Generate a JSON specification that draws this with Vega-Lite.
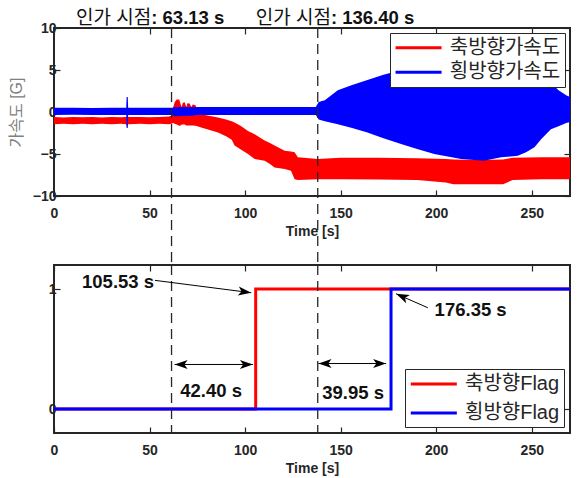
{
  "$schema": "https://vega.github.io/schema/vega-lite/v6.json",
  "background": "white",
  "padding": {"left": 7, "top": 7, "right": 5, "bottom": 5},
  "bounds": "flush",
  "spacing": 69,
  "config": {
    "font": "Liberation Sans, Noto Sans CJK KR",
    "view": {"stroke": "#262626", "strokeWidth": 2},
    "axis": {
      "grid": false, "domain": false, "tickSize": -6, "tickColor": "#262626", "tickWidth": 1.2,
      "labelFontWeight": "bold", "labelFontSize": 14, "labelColor": "#262626", "labelFlush": false,
      "titleFontWeight": "bold", "titleFontSize": 14, "titleColor": "#262626"
    },
    "axisX": {"labelPadding": 16, "titlePadding": 4},
    "axisY": {"labelPadding": 4}
  },
  "datasets": {
    "accRed": [
      {"t": 0, "lo": -1.45, "hi": -0.6}, {"t": 5, "lo": -1.4, "hi": -0.65}, {"t": 10, "lo": -1.45, "hi": -0.6},
      {"t": 15, "lo": -1.4, "hi": -0.62}, {"t": 20, "lo": -1.45, "hi": -0.6}, {"t": 25, "lo": -1.4, "hi": -0.65},
      {"t": 30, "lo": -1.45, "hi": -0.6}, {"t": 35, "lo": -1.4, "hi": -0.62}, {"t": 37.8, "lo": -1.45, "hi": -0.6},
      {"t": 38.2, "lo": -1.8, "hi": -0.6}, {"t": 38.8, "lo": -1.45, "hi": -0.6}, {"t": 45, "lo": -1.4, "hi": -0.6},
      {"t": 50, "lo": -1.45, "hi": -0.62}, {"t": 55, "lo": -1.4, "hi": -0.6}, {"t": 60, "lo": -1.45, "hi": -0.55},
      {"t": 61.5, "lo": -1.4, "hi": -0.45}, {"t": 62.3, "lo": -1.3, "hi": 0.5}, {"t": 63.2, "lo": -1.4, "hi": 1.2},
      {"t": 64.2, "lo": -1.5, "hi": 1.5}, {"t": 65.5, "lo": -1.65, "hi": 1.5}, {"t": 66.3, "lo": -1.6, "hi": 0.9},
      {"t": 66.8, "lo": -1.5, "hi": 0.6}, {"t": 67.4, "lo": -1.5, "hi": 1.1}, {"t": 68.4, "lo": -1.5, "hi": 1.15},
      {"t": 69.2, "lo": -1.6, "hi": 0.6}, {"t": 69.8, "lo": -1.6, "hi": 1.05}, {"t": 71, "lo": -1.6, "hi": 1.0},
      {"t": 71.8, "lo": -1.6, "hi": 0.6}, {"t": 72.6, "lo": -1.6, "hi": 0.9}, {"t": 74, "lo": -1.65, "hi": 0.8},
      {"t": 75, "lo": -1.7, "hi": 0.3}, {"t": 77, "lo": -1.85, "hi": -0.26}, {"t": 81, "lo": -2.1, "hi": -0.45},
      {"t": 85.8, "lo": -2.45, "hi": -0.66}, {"t": 90, "lo": -2.9, "hi": -0.9}, {"t": 93, "lo": -3.3, "hi": -1.1},
      {"t": 94.5, "lo": -4.0, "hi": -1.26}, {"t": 98, "lo": -4.5, "hi": -1.7}, {"t": 101.5, "lo": -5.0, "hi": -2.25},
      {"t": 105, "lo": -5.6, "hi": -2.65}, {"t": 110.2, "lo": -5.8, "hi": -3.4}, {"t": 113, "lo": -6.2, "hi": -3.7},
      {"t": 115.4, "lo": -6.6, "hi": -4.0}, {"t": 120.7, "lo": -6.8, "hi": -4.6}, {"t": 124, "lo": -7.0, "hi": -4.7},
      {"t": 125.9, "lo": -8.0, "hi": -4.8}, {"t": 127.6, "lo": -8.1, "hi": -5.4}, {"t": 138, "lo": -8.0, "hi": -5.6},
      {"t": 150, "lo": -8.0, "hi": -5.45}, {"t": 170, "lo": -8.05, "hi": -5.45}, {"t": 190, "lo": -8.1, "hi": -5.5},
      {"t": 205, "lo": -8.4, "hi": -5.6}, {"t": 209, "lo": -8.6, "hi": -5.65}, {"t": 222, "lo": -8.6, "hi": -5.7},
      {"t": 235, "lo": -8.6, "hi": -5.65}, {"t": 240, "lo": -8.1, "hi": -5.45}, {"t": 255, "lo": -8.0, "hi": -5.4},
      {"t": 270, "lo": -8.0, "hi": -5.4}
    ],
    "accBlue": [
      {"t": 0, "lo": -0.35, "hi": 0.5}, {"t": 10, "lo": -0.33, "hi": 0.5}, {"t": 20, "lo": -0.35, "hi": 0.48},
      {"t": 30, "lo": -0.35, "hi": 0.5}, {"t": 37.8, "lo": -0.35, "hi": 0.5}, {"t": 38, "lo": -1.9, "hi": 1.8},
      {"t": 38.6, "lo": -1.9, "hi": 1.8}, {"t": 38.8, "lo": -0.35, "hi": 0.5}, {"t": 50, "lo": -0.35, "hi": 0.5},
      {"t": 62, "lo": -0.35, "hi": 0.5}, {"t": 63, "lo": -0.5, "hi": 0.6}, {"t": 72, "lo": -0.45, "hi": 0.6},
      {"t": 75, "lo": -0.35, "hi": 0.6}, {"t": 100, "lo": -0.35, "hi": 0.6}, {"t": 137, "lo": -0.35, "hi": 0.6},
      {"t": 138.5, "lo": -0.9, "hi": 1.2}, {"t": 141.7, "lo": -1.1, "hi": 1.4}, {"t": 148.5, "lo": -1.45, "hi": 2.6},
      {"t": 156, "lo": -1.9, "hi": 3.2}, {"t": 164, "lo": -2.45, "hi": 3.8}, {"t": 172, "lo": -3.1, "hi": 4.4},
      {"t": 181.6, "lo": -3.8, "hi": 5.0}, {"t": 190, "lo": -4.4, "hi": 5.5}, {"t": 199, "lo": -5.0, "hi": 6.0},
      {"t": 206, "lo": -5.3, "hi": 6.3}, {"t": 213, "lo": -5.6, "hi": 6.6}, {"t": 225, "lo": -5.8, "hi": 6.8},
      {"t": 234, "lo": -5.4, "hi": 6.6}, {"t": 242.7, "lo": -5.2, "hi": 6.3}, {"t": 247, "lo": -4.8, "hi": 5.8},
      {"t": 251.4, "lo": -4.2, "hi": 5.2}, {"t": 255, "lo": -3.2, "hi": 4.4}, {"t": 260, "lo": -2.05, "hi": 3.5},
      {"t": 264, "lo": -1.7, "hi": 2.6}, {"t": 268, "lo": -1.3, "hi": 2.0}, {"t": 270, "lo": -1.2, "hi": 1.8}
    ],
    "vlines": [{"t": 61.5}, {"t": 138}],
    "titlesTop": [
      {"t": 50.9, "v": 11.25, "kor": "인가 시점", "num": ": 63.13 s"},
      {"t": 144.9, "v": 11.25, "kor": "인가 시점", "num": ": 136.40 s"}
    ],
    "flagRed": [{"t": 0, "f": 0}, {"t": 105.53, "f": 1}, {"t": 270, "f": 1}],
    "flagBlue": [{"t": 0, "f": 0}, {"t": 176.35, "f": 1}, {"t": 270, "f": 1}],
    "arrows": [
      {"x1": 52.8, "y1": 1.072, "x2": 103.2, "y2": 0.969},
      {"x1": 195.6, "y1": 0.844, "x2": 179.0, "y2": 0.96},
      {"x1": 63.1, "y1": 0.371, "x2": 104.1, "y2": 0.371},
      {"x1": 138.4, "y1": 0.379, "x2": 173.8, "y2": 0.379}
    ],
    "headsRight": [{"t": 104.1, "v": 0.371}, {"t": 173.8, "v": 0.379}],
    "headsLeft": [{"t": 63.1, "v": 0.371}, {"t": 138.4, "v": 0.379}],
    "headDiag1": [{"t": 103.2, "v": 0.969}],
    "headDiag2": [{"t": 179.0, "v": 0.96}],
    "labelsBottom": [
      {"t": 33.5, "v": 1.055, "s": "105.53 s"},
      {"t": 82.2, "v": 0.148, "s": "42.40 s"},
      {"t": 156.5, "v": 0.135, "s": "39.95 s"},
      {"t": 218, "v": 0.823, "s": "176.35 s"}
    ]
  },
  "vconcat": [
    {
      "width": 516,
      "height": 168,
      "resolve": {"axis": {"x": "independent", "y": "independent"}},
      "layer": [
        {
          "data": {"name": "accRed"},
          "mark": {"type": "area", "opacity": 1},
          "encoding": {
            "x": {"field": "t", "type": "quantitative", "scale": {"domain": [0, 270], "nice": false, "zero": false},
                  "axis": {"values": [0, 50, 100, 150, 200, 250], "title": "Time [s]"}},
            "y": {"field": "hi", "type": "quantitative", "scale": {"domain": [-10, 10], "nice": false},
                  "axis": {"values": [-10, -5, 0, 5, 10], "title": "가속도 [G]", "titleColor": "#808080", "titleFontWeight": "normal", "titleFontSize": 16, "titlePadding": 8}},
            "y2": {"field": "lo"},
            "color": {"datum": "축방향가속도", "type": "nominal",
                      "scale": {"domain": ["축방향가속도", "횡방향가속도"], "range": ["#ff0000", "#0000ff"]},
                      "legend": {"title": null, "orient": "top-right", "offset": 5, "padding": 4.75, "rowPadding": 4.5,
                                 "labelFontSize": 20, "labelColor": "#262626", "labelOffset": 35,
                                 "labelExpr": "datum.label + '\u00a0\u00a0\u00a0'",
                                 "symbolType": "M-1,-0.16L4,-0.16L4,0.16L-1,0.16Z", "symbolSize": 339,
                                 "symbolOpacity": 1, "symbolStrokeWidth": 0,
                                 "strokeColor": "#262626", "fillColor": "#ffffff", "zindex": 1}}
          }
        },
        {
          "data": {"name": "accBlue"},
          "mark": {"type": "area", "opacity": 1},
          "encoding": {
            "x": {"field": "t", "type": "quantitative", "axis": null},
            "y": {"field": "hi", "type": "quantitative", "axis": null},
            "y2": {"field": "lo"},
            "color": {"datum": "횡방향가속도", "type": "nominal"}
          }
        },
        {
          "data": {"name": "vlines"},
          "mark": {"type": "rule", "strokeDash": [10, 6], "color": "#262626", "strokeWidth": 1.3, "clip": false},
          "encoding": {
            "x": {"field": "t", "type": "quantitative",
                  "axis": {"orient": "top", "labels": false, "title": null, "values": [0, 50, 100, 150, 200, 250]}},
            "y": {"datum": 10, "type": "quantitative",
                  "axis": {"orient": "right", "labels": false, "title": null, "values": [-10, -5, 0, 5, 10]}},
            "y2": {"datum": -18.23}
          }
        },
        {
          "data": {"name": "titlesTop"},
          "mark": {"type": "text", "align": "right", "baseline": "middle", "fontSize": 19, "font": "Liberation Sans, Noto Sans CJK KR", "color": "#111111"},
          "encoding": {
            "x": {"field": "t", "type": "quantitative", "axis": null},
            "y": {"field": "v", "type": "quantitative", "axis": null},
            "text": {"field": "kor"}
          }
        },
        {
          "data": {"name": "titlesTop"},
          "mark": {"type": "text", "align": "left", "baseline": "middle", "fontSize": 18.5, "fontWeight": "bold", "font": "Liberation Sans", "color": "#111111"},
          "encoding": {
            "x": {"field": "t", "type": "quantitative", "axis": null},
            "y": {"field": "v", "type": "quantitative", "axis": null},
            "text": {"field": "num"}
          }
        }
      ]
    },
    {
      "width": 516,
      "height": 168,
      "resolve": {"axis": {"x": "independent", "y": "independent"}},
      "layer": [
        {
          "data": {"name": "flagRed"},
          "mark": {"type": "line", "interpolate": "step-after", "strokeWidth": 3},
          "encoding": {
            "x": {"field": "t", "type": "quantitative", "scale": {"domain": [0, 270], "nice": false, "zero": false},
                  "axis": {"values": [0, 50, 100, 150, 200, 250], "title": "Time [s]"}},
            "y": {"field": "f", "type": "quantitative", "scale": {"domain": [-0.2, 1.2], "nice": false},
                  "axis": {"values": [0, 1], "format": "d", "title": null}},
            "color": {"datum": "축방향Flag", "type": "nominal",
                      "scale": {"domain": ["축방향Flag", "횡방향Flag"], "range": ["#ff0000", "#0000ff"]},
                      "legend": {"title": null, "orient": "bottom-right", "offset": 6, "padding": 4, "rowPadding": 8,
                                 "labelFontSize": 20, "labelColor": "#262626", "labelOffset": 34,
                                 "labelExpr": "datum.label + '\u00a0\u00a0'",
                                 "symbolType": "M-1,0L4,0", "symbolSize": 339, "symbolStrokeWidth": 3,
                                 "strokeColor": "#262626", "fillColor": "#ffffff", "zindex": 1}}
          }
        },
        {
          "data": {"name": "flagBlue"},
          "mark": {"type": "line", "interpolate": "step-after", "strokeWidth": 3},
          "encoding": {
            "x": {"field": "t", "type": "quantitative", "axis": null},
            "y": {"field": "f", "type": "quantitative", "axis": null},
            "color": {"datum": "횡방향Flag", "type": "nominal"}
          }
        },
        {
          "data": {"name": "vlines"},
          "mark": {"type": "rule", "strokeDash": [10, 6], "color": "#262626", "strokeWidth": 1.3, "clip": false},
          "encoding": {
            "x": {"field": "t", "type": "quantitative",
                  "axis": {"orient": "top", "labels": false, "title": null, "values": [0, 50, 100, 150, 200, 250]}},
            "y": {"datum": 1.2, "type": "quantitative",
                  "axis": {"orient": "right", "labels": false, "title": null, "values": [0, 1]}},
            "y2": {"datum": -0.2}
          }
        },
        {
          "data": {"name": "arrows"},
          "mark": {"type": "rule", "color": "#000000", "strokeWidth": 1},
          "encoding": {
            "x": {"field": "x1", "type": "quantitative", "axis": null},
            "x2": {"field": "x2"},
            "y": {"field": "y1", "type": "quantitative", "axis": null},
            "y2": {"field": "y2"}
          }
        },
        {
          "data": {"name": "headsRight"},
          "mark": {"type": "point", "shape": "M0,0L-2,-0.7L-1.5,0L-2,0.7Z", "filled": true, "size": 170, "color": "#000000", "opacity": 1, "angle": 0},
          "encoding": {
            "x": {"field": "t", "type": "quantitative", "axis": null},
            "y": {"field": "v", "type": "quantitative", "axis": null}
          }
        },
        {
          "data": {"name": "headsLeft"},
          "mark": {"type": "point", "shape": "M0,0L-2,-0.7L-1.5,0L-2,0.7Z", "filled": true, "size": 170, "color": "#000000", "opacity": 1, "angle": 180},
          "encoding": {
            "x": {"field": "t", "type": "quantitative", "axis": null},
            "y": {"field": "v", "type": "quantitative", "axis": null}
          }
        },
        {
          "data": {"name": "headDiag1"},
          "mark": {"type": "point", "shape": "M0,0L-2,-0.7L-1.5,0L-2,0.7Z", "filled": true, "size": 170, "color": "#000000", "opacity": 1, "angle": 7.3},
          "encoding": {
            "x": {"field": "t", "type": "quantitative", "axis": null},
            "y": {"field": "v", "type": "quantitative", "axis": null}
          }
        },
        {
          "data": {"name": "headDiag2"},
          "mark": {"type": "point", "shape": "M0,0L-2,-0.7L-1.5,0L-2,0.7Z", "filled": true, "size": 170, "color": "#000000", "opacity": 1, "angle": 203.8},
          "encoding": {
            "x": {"field": "t", "type": "quantitative", "axis": null},
            "y": {"field": "v", "type": "quantitative", "axis": null}
          }
        },
        {
          "data": {"name": "labelsBottom"},
          "mark": {"type": "text", "align": "center", "baseline": "middle", "fontSize": 18.5, "fontWeight": "bold", "font": "Liberation Sans", "color": "#111111"},
          "encoding": {
            "x": {"field": "t", "type": "quantitative", "axis": null},
            "y": {"field": "v", "type": "quantitative", "axis": null},
            "text": {"field": "s"}
          }
        }
      ]
    }
  ],
  "resolve": {"scale": {"color": "independent"}, "legend": {"color": "independent"}}
}
